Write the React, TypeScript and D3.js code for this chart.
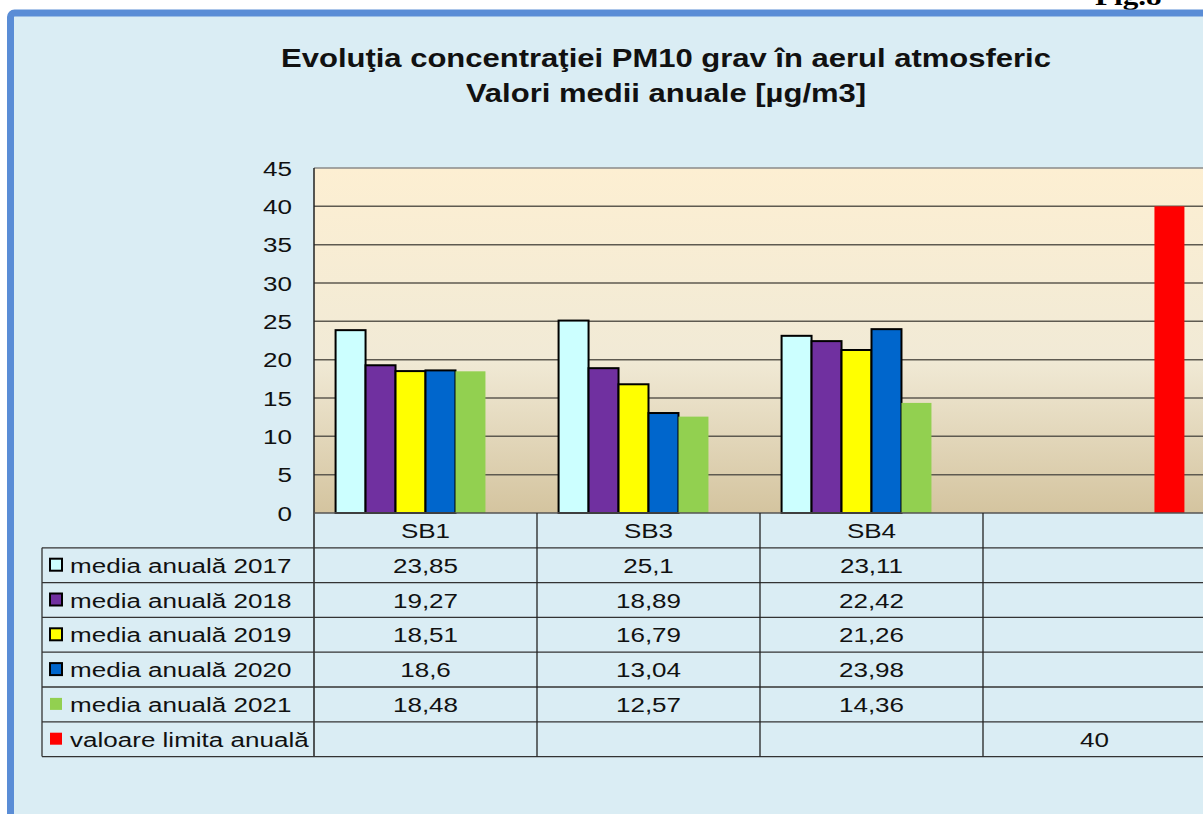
import { useEffect, useRef } from "react";
import { scaleBand, scaleLinear, select, range } from "d3";

const categories = ["SB1", "SB3", "SB4", ""];
const seriesNames = [
  "media anuală 2017",
  "media anuală 2018",
  "media anuală 2019",
  "media anuală 2020",
  "media anuală 2021",
  "valoare limita anuală",
];
const s2017 = [23.85, 25.1, 23.11, null];
const s2018 = [19.27, 18.89, 22.42, null];
const s2019 = [18.51, 16.79, 21.26, null];
const s2020 = [18.6, 13.04, 23.98, null];
const s2021 = [18.48, 12.57, 14.36, null];
const sLimit = [null, null, null, 40];
const seriesColors = ["#ccffff", "#7030a0", "#ffff00", "#0066cc", "#92d050", "#ff0000"];
const seriesStroke = [true, true, true, true, false, false];
const yTicks = [0, 5, 10, 15, 20, 25, 30, 35, 40, 45];

const W = 1203;
const H = 814;
const FONT = "'Liberation Sans', Arial, sans-serif";
const SX = 1.24; // the source picture is stretched horizontally

const fmt = (v: number | null) => (v == null ? "" : String(v).replace(".", ","));

export default function App() {
  const ref = useRef<SVGSVGElement>(null);

  useEffect(() => {
    const allSeries = [s2017, s2018, s2019, s2020, s2021, sLimit];
    const svg = select(ref.current);
    svg.selectAll("*").remove();

    const plotLeft = 314;
    const plotRight = 1206;
    const plotTop = 168;
    const plotBottom = 513;
    const tableLeft = 42;
    const rowH = 34.8;

    // stretched text helper
    const label = (g: any, x: number, y: number, t: string, anchor = "middle", size = 21, sx = SX, bold = false) =>
      g.append("text")
        .attr("transform", `translate(${x},${y}) scale(${sx},1)`)
        .attr("text-anchor", anchor)
        .attr("font-family", FONT)
        .attr("font-size", size)
        .attr("font-weight", bold ? "bold" : "normal")
        .attr("fill", "#111")
        .text(t);

    // gradient for the plot area
    const defs = svg.append("defs");
    const grad = defs.append("linearGradient").attr("id", "plotGrad")
      .attr("x1", 0).attr("y1", 0).attr("x2", 0).attr("y2", 1);
    grad.append("stop").attr("offset", "0%").attr("stop-color", "#fdefd2");
    grad.append("stop").attr("offset", "55%").attr("stop-color", "#f1ead6");
    grad.append("stop").attr("offset", "100%").attr("stop-color", "#d4c49f");

    // page top strip and "Fig.8"
    svg.append("rect").attr("x", 0).attr("y", 0).attr("width", W).attr("height", H).attr("fill", "#ffffff");
    svg.append("text").attr("transform", "translate(1095,5) scale(1.2,1)")
      .attr("font-family", "'Liberation Serif', 'Times New Roman', serif")
      .attr("font-weight", "bold").attr("font-size", 26).attr("fill", "#000").text("Fig.8");

    // chart panel
    svg.append("rect").attr("x", 10.5).attr("y", 13).attr("width", W + 20).attr("height", H + 20)
      .attr("rx", 4).attr("fill", "#daedf4").attr("stroke", "#5a8dd6").attr("stroke-width", 7);

    // title
    label(svg, 666, 67, "Evoluţia concentraţiei PM10 grav în aerul atmosferic", "middle", 26.5, 1.17, true);
    label(svg, 666, 102, "Valori medii anuale [µg/m3]", "middle", 26.5, 1.17, true);

    const x = scaleBand<string>().domain(categories.map((c, i) => String(i))).range([plotLeft, plotRight]);
    const inner = scaleBand<string>().domain(seriesNames)
      .range([0, x.bandwidth()]).paddingOuter(0.72).paddingInner(0);
    const y = scaleLinear().domain([0, 45]).range([plotBottom, plotTop]);

    svg.append("rect").attr("x", plotLeft).attr("y", plotTop)
      .attr("width", plotRight - plotLeft).attr("height", plotBottom - plotTop)
      .attr("fill", "url(#plotGrad)");

    // gridlines
    svg.append("g").selectAll("line").data(yTicks.filter((t) => t > 0)).join("line")
      .attr("x1", plotLeft).attr("x2", plotRight)
      .attr("y1", (d) => y(d)).attr("y2", (d) => y(d))
      .attr("stroke", (d) => (d === 45 ? "#8a8a8a" : "#5e5a50")).attr("stroke-width", 1.5);

    // y labels
    const yl = svg.append("g");
    yTicks.forEach((t) => label(yl, 292, y(t) + 7.5, String(t), "end"));

    // bars
    allSeries.forEach((vals, si) => {
      svg.append("g").selectAll("rect")
        .data(vals.map((v, ci) => ({ v, ci })).filter((d) => d.v != null))
        .join("rect")
        .attr("x", (d) => (x(String(d.ci)) as number) + (inner(seriesNames[si]) as number))
        .attr("y", (d) => y(d.v as number))
        .attr("width", inner.bandwidth())
        .attr("height", (d) => y(0) - y(d.v as number))
        .attr("fill", seriesColors[si])
        .attr("stroke", seriesStroke[si] ? "#000" : "none")
        .attr("stroke-width", 2);
    });

    // axis lines
    svg.append("line").attr("x1", plotLeft).attr("x2", plotLeft).attr("y1", plotTop).attr("y2", plotBottom + 7 * rowH)
      .attr("stroke", "#222").attr("stroke-width", 1.5);
    svg.append("line").attr("x1", plotLeft).attr("x2", plotRight).attr("y1", plotBottom).attr("y2", plotBottom)
      .attr("stroke", "#555").attr("stroke-width", 1.5);

    // data table
    const tbl = svg.append("g");
    const rowsY = range(8).map((i) => plotBottom + i * rowH);
    tbl.selectAll("line.h").data(rowsY.slice(1)).join("line")
      .attr("x1", tableLeft).attr("x2", plotRight)
      .attr("y1", (d) => d).attr("y2", (d) => d)
      .attr("stroke", "#333").attr("stroke-width", 1.3);
    tbl.append("line").attr("x1", tableLeft).attr("x2", tableLeft)
      .attr("y1", rowsY[1]).attr("y2", rowsY[7]).attr("stroke", "#333").attr("stroke-width", 1.3);
    categories.forEach((c, i) => {
      const x0 = (x(String(i)) as number) + x.bandwidth();
      tbl.append("line").attr("x1", x0).attr("x2", x0).attr("y1", plotBottom).attr("y2", rowsY[7])
        .attr("stroke", "#222").attr("stroke-width", 1.3);
      label(tbl, (x(String(i)) as number) + x.bandwidth() / 2, plotBottom + rowH / 2 + 7.5, c);
    });
    seriesNames.forEach((name, si) => {
      const cy = rowsY[si + 1] + rowH / 2;
      tbl.append("rect").attr("x", 50).attr("y", cy - 6.5).attr("width", 12).attr("height", 12)
        .attr("fill", seriesColors[si]).attr("stroke", seriesStroke[si] ? "#000" : "none").attr("stroke-width", 2);
      label(tbl, 70, cy + 7.5, name, "start");
      allSeries[si].forEach((v, ci) => {
        label(tbl, (x(String(ci)) as number) + x.bandwidth() / 2, cy + 7.5, fmt(v));
      });
    });
  }, []);

  return (
    <div style={{ position: "absolute", left: 0, top: 0, width: W, height: H, overflow: "hidden" }}>
      <svg ref={ref} width={W} height={H} />
    </div>
  );
}
